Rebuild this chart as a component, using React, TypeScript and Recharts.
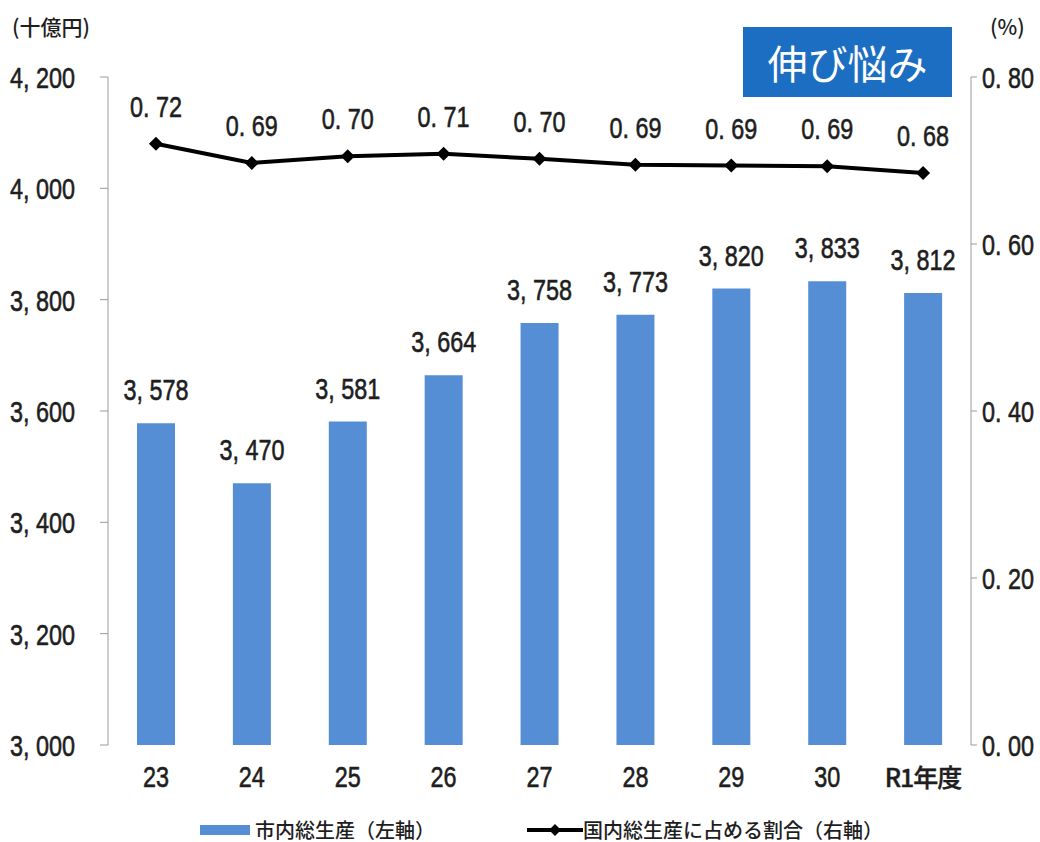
import {
  ComposedChart,
  Bar,
  Line,
  XAxis,
  YAxis,
  LabelList,
  Legend,
} from "recharts";

const years = ["23", "24", "25", "26", "27", "28", "29", "30", "R1年度"];
const cityGdp = [3578, 3470, 3581, 3664, 3758, 3773, 3820, 3833, 3812];
// share of national GDP (%), as plotted; labels are the printed figures
const shareOfNational = [0.72, 0.697, 0.705, 0.708, 0.702, 0.695, 0.694, 0.693, 0.685];
const shareLabels = ["0.72", "0.69", "0.70", "0.71", "0.70", "0.69", "0.69", "0.69", "0.68"];
const leftTicks = [3000, 3200, 3400, 3600, 3800, 4000, 4200];
const rightTicks = [0, 0.2, 0.4, 0.6, 0.8];

const NUM_FONT = "'Liberation Sans', 'Noto Sans CJK JP', sans-serif";
const JP_FONT = "'Noto Sans CJK JP', sans-serif";
const BAR = "#558ED5";
const AXIS = "#9a9a9a";
const INK = "#1e1e1e";
const NBSP = "\u00A0";
const SX = 0.78; // horizontal squeeze to mimic the condensed face

const rows = years.map((y, i) => ({
  year: y,
  gdp: cityGdp[i],
  share: shareOfNational[i],
  shareLabel: shareLabels[i].replace(".", "." + NBSP),
}));
const edges = years.map((_, i) => i).concat(years.length);

const fmtComma = (v: number) => v.toLocaleString("en-US").replace(",", "," + NBSP);
const fmtPct = (v: number) => v.toFixed(2).replace(".", "." + NBSP);

function CondText({ x, y, text, anchor, dy = 0, size = 30 }: any) {
  return (
    <text
      transform={`translate(${x},${y + dy}) scale(${SX},1)`}
      textAnchor={anchor}
      fontFamily={NUM_FONT}
      fontSize={size}
      fill={INK}
      stroke={INK}
      strokeWidth={0.6}
    >
      {text}
    </text>
  );
}

const LeftTick = (p: any) => (
  <CondText x={p.x} y={p.y} dy={11} anchor="end" text={fmtComma(p.payload.value)} />
);
const RightTick = (p: any) => (
  <CondText x={p.x} y={p.y} dy={11} anchor="start" text={fmtPct(p.payload.value)} />
);
const YearTick = (p: any) => {
  const v = String(p.payload.value);
  if (/[^\x00-\x7f]/.test(v)) {
    return (
      <text
        x={p.x}
        y={p.y + 22}
        textAnchor="middle"
        fontFamily={JP_FONT}
        fontSize={25}
        fontWeight={500}
        fill={INK}
        stroke={INK}
        strokeWidth={0.4}
        letterSpacing={-1}
      >
        {v}
      </text>
    );
  }
  return <CondText x={p.x} y={p.y} dy={22} anchor="middle" text={v} />;
};

const makeTopLabel = (gap: number) => (p: any) => {
  const vb = p.viewBox || p;
  const cx = vb.x + (vb.width || 0) / 2;
  const text = typeof p.value === "number" ? fmtComma(p.value) : String(p.value);
  return <CondText x={cx} y={vb.y} dy={-gap} anchor="middle" text={text} />;
};
const BarLabel = makeTopLabel(23);
const LineLabel = makeTopLabel(27);

const Diamond = (p: any) => {
  const { cx, cy, index } = p;
  const r = 7;
  return (
    <polygon
      key={index}
      points={`${cx},${cy - r} ${cx + r},${cy} ${cx},${cy + r} ${cx - r},${cy}`}
      fill="#000"
    />
  );
};

const LegendBox = () => (
  <div
    style={{
      display: "flex",
      alignItems: "center",
      fontFamily: JP_FONT,
      fontSize: 20,
      fontWeight: 500,
      lineHeight: "24px",
      color: INK,
      paddingLeft: 200,
    }}
  >
    <span style={{ width: 50, height: 10, background: BAR, marginRight: 5 }} />
    <span>市内総生産（左軸）</span>
    <svg width={56} height={16} style={{ marginLeft: 92 }}>
      <line x1={0} y1={8} x2={56} y2={8} stroke="#000" strokeWidth={4} />
      <polygon points="28,2 34,8 28,14 22,8" fill="#000" />
    </svg>
    <span>国内総生産に占める割合（右軸）</span>
  </div>
);

export default function App() {
  return (
    <div
      style={{
        position: "absolute",
        left: 0,
        top: 0,
        width: 1040,
        height: 842,
        background: "#fff",
      }}
    >
      <div
        style={{
          position: "absolute",
          left: 12,
          top: 11,
          fontFamily: JP_FONT,
          fontSize: 21,
          fontWeight: 500,
          color: INK,
        }}
      >
        (十億円)
      </div>
      <div
        style={{
          position: "absolute",
          left: 990,
          top: 11,
          fontFamily: JP_FONT,
          fontSize: 21,
          fontWeight: 500,
          color: INK,
        }}
      >
        (%)
      </div>
      <div
        style={{
          position: "absolute",
          left: 743,
          top: 27,
          width: 209,
          height: 70,
          background: "#1B6EC2",
          color: "#fff",
          fontFamily: JP_FONT,
          fontSize: 40,
          lineHeight: "70px",
          textAlign: "center",
          zIndex: 2,
        }}
      >
        伸び悩み
      </div>
      <ComposedChart
        width={1040}
        height={842}
        data={rows}
        margin={{ top: 77, right: 0, bottom: 23, left: 8 }}
      >
        <XAxis
          xAxisId="edges"
          type="number"
          domain={[0, years.length]}
          ticks={edges}
          height={0}
          stroke={AXIS}
          tickSize={8}
          tick={() => <g />}
        />
        <XAxis
          dataKey="year"
          height={50}
          axisLine={false}
          tickLine={false}
          tickSize={0}
          tickMargin={20}
          tick={YearTick}
          interval={0}
        />
        <YAxis
          yAxisId="left"
          domain={[3000, 4200]}
          ticks={leftTicks}
          width={100}
          stroke={AXIS}
          tickSize={8}
          tickMargin={25}
          tick={LeftTick}
          interval={0}
        />
        <YAxis
          yAxisId="right"
          orientation="right"
          domain={[0, 0.8]}
          ticks={rightTicks}
          width={69}
          stroke={AXIS}
          tickSize={6}
          tickMargin={5}
          tick={RightTick}
          interval={0}
        />
        <Bar
          yAxisId="left"
          dataKey="gdp"
          fill={BAR}
          barSize={38}
          isAnimationActive={false}
        >
          <LabelList dataKey="gdp" content={BarLabel} />
        </Bar>
        <Line
          yAxisId="right"
          dataKey="share"
          stroke="#000"
          strokeWidth={4}
          dot={Diamond}
          activeDot={false}
          isAnimationActive={false}
        >
          <LabelList dataKey="shareLabel" content={LineLabel} />
        </Line>
        <Legend
          verticalAlign="bottom"
          content={<LegendBox />}
          wrapperStyle={{ bottom: 0, left: 0, width: 1040, height: 24 }}
        />
      </ComposedChart>
    </div>
  );
}
